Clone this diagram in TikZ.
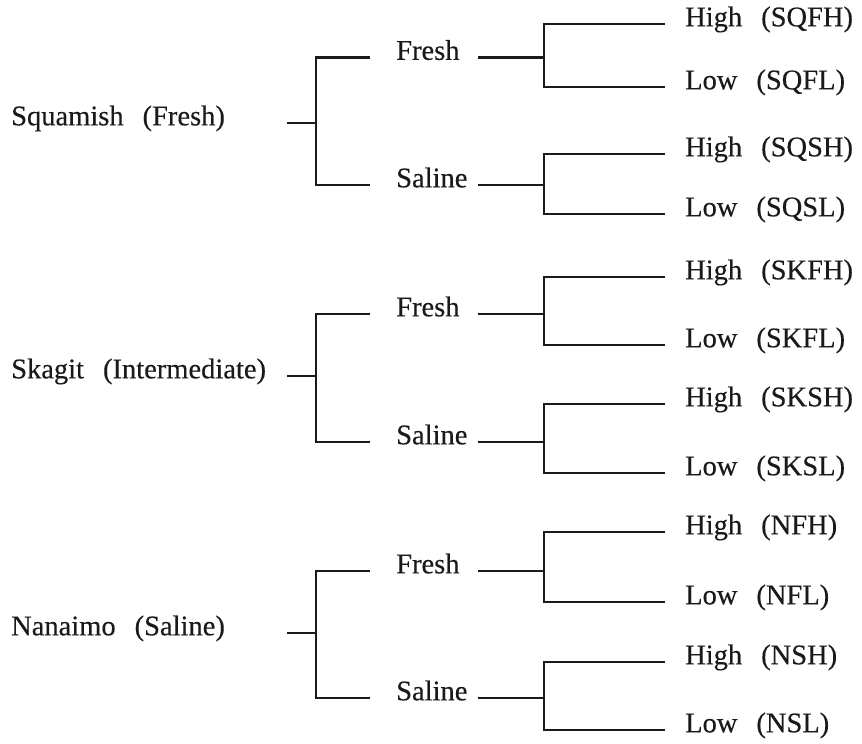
\documentclass[tikz,border=0pt]{standalone}
\usepackage{fontspec}
\setmainfont{Liberation Serif}[FakeBold=0.3]
\newcommand\sepgap{\hspace{19pt}}
\definecolor{ink}{HTML}{1A1A1A}
\begin{document}
\begin{tikzpicture}[x=1pt,y=-1pt,
  lab/.style={anchor=west,inner sep=0pt,text height=0.66em,text depth=0.2em,
    font=\fontsize{28.5}{32}\selectfont,text=ink},
  conn/.style={draw=ink,line width=2.3pt,line join=miter}]
\useasboundingbox (0,0) rectangle (862,744);
\foreach \g/\lab/\ry/\fy/\sy/\a/\b/\c/\d/\p in {
  sq/{Squamish\sepgap(Fresh)}/123/57.5/185/24/87/154/214/SQ,
  sk/{Skagit\sepgap(Intermediate)}/376/314/442/277/345/404/473/SK,
  na/{Nanaimo\sepgap(Saline)}/633/571/698/532/602/662/730/N}{
  % root level
  \node[lab] (root\g) at (11,\ry) {\lab};
  \coordinate (rs\g) at (287,\ry);
  \coordinate (rj\g) at (316,\ry);
  \coordinate (bt\g) at (316,\fy);
  \coordinate (bb\g) at (316,\sy);
  \coordinate (fe\g) at (370,\fy);
  \coordinate (se\g) at (370,\sy);
  \node[lab] (fresh\g) at (396,\fy) {Fresh};
  \node[lab] (saline\g) at (396,\sy) {Saline};
  \draw[conn] (rs\g) -- (rj\g);
  \draw[conn] (fe\g) -- (bt\g) -- (bb\g) -- (se\g);
  % fresh sub-bracket
  \coordinate (fs\g) at (478,\fy);
  \coordinate (fj\g) at (544,\fy);
  \coordinate (fa\g) at (544,\a);
  \coordinate (fb\g) at (544,\b);
  \coordinate (fae\g) at (665,\a);
  \coordinate (fbe\g) at (665,\b);
  \node[lab] (fhigh\g) at (685,\a) {High\sepgap(\p FH)};
  \node[lab] (flow\g) at (685,\b) {Low\sepgap(\p FL)};
  \draw[conn] (fs\g) -- (fj\g);
  \draw[conn] (fae\g) -- (fa\g) -- (fb\g) -- (fbe\g);
  % saline sub-bracket
  \coordinate (ss\g) at (478,\sy);
  \coordinate (sj\g) at (544,\sy);
  \coordinate (sa\g) at (544,\c);
  \coordinate (sb\g) at (544,\d);
  \coordinate (sae\g) at (665,\c);
  \coordinate (sbe\g) at (665,\d);
  \node[lab] (shigh\g) at (685,\c) {High\sepgap(\p SH)};
  \node[lab] (slow\g) at (685,\d) {Low\sepgap(\p SL)};
  \draw[conn] (ss\g) -- (sj\g);
  \draw[conn] (sae\g) -- (sa\g) -- (sb\g) -- (sbe\g);
}
\end{tikzpicture}
\end{document}
